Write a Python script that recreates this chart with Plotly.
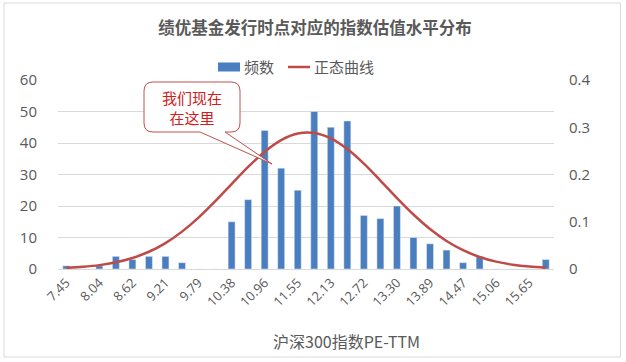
import plotly.graph_objects as go

categories = ["7.45", "7.74", "8.04", "8.33", "8.62", "8.91", "9.21", "9.50", "9.79", "10.08",
              "10.38", "10.67", "10.96", "11.25", "11.55", "11.84", "12.13", "12.43", "12.72", "13.01",
              "13.30", "13.59", "13.89", "14.18", "14.47", "14.76", "15.06", "15.35", "15.65", "15.94"]
freq = [1, 0, 1, 4, 3, 4, 4, 2, 0, 0,
        15, 22, 44, 32, 25, 50, 45, 47, 17, 16,
        20, 10, 8, 6, 2, 4, 0, 0, 0, 3]
normal = [0.0024, 0.0046, 0.0082, 0.0141, 0.0232, 0.0365, 0.0549, 0.0791, 0.1087, 0.1430,
          0.1797, 0.2160, 0.2483, 0.2729, 0.2867, 0.2880, 0.2766, 0.2539, 0.2230, 0.1872,
          0.1502, 0.1153, 0.0846, 0.0593, 0.0398, 0.0255, 0.0156, 0.0092, 0.0051, 0.0028]
tick_labels = categories[::2]
series_names = ["频数", "正态曲线"]

FONT = "Open Sans, Noto Sans CJK SC, sans-serif"
CJK = "Noto Sans CJK SC, sans-serif"
GREY = "#595959"
BLUE = "#4A7EBF"
RED = "#BE4B48"

fig = go.Figure()
fig.add_trace(go.Bar(x=categories, y=freq, name=series_names[0], marker_color=BLUE,
                     yaxis="y", showlegend=False))
fig.add_trace(go.Scatter(x=categories, y=normal, name=series_names[1], mode="lines",
                         line=dict(color=RED, width=2.5, shape="spline"),
                         yaxis="y2", showlegend=False))

# plot area in pixels: x 58..554, y 80..269
W, H = 626, 362
L, R, T, B = 58, 554, 80, 269
pw, ph = R - L, B - T
def px(x):
    return (x - L) / pw
def py(y):
    return (B - y) / ph

# callout path
bl, br, bt, bb = px(144), px(240), py(82), py(132)
rx, ry = 9 / pw, 9 / ph
t1, t2 = px(200), px(225)
tipx, tipy = px(272), py(164)
path = (f"M {bl+rx},{bt} L {br-rx},{bt} Q {br},{bt} {br},{bt-ry} L {br},{bb+ry} "
        f"Q {br},{bb} {br-rx},{bb} L {t2},{bb} L {tipx},{tipy} L {t1},{bb} "
        f"L {bl+rx},{bb} Q {bl},{bb} {bl},{bb+ry} L {bl},{bt-ry} Q {bl},{bt} {bl+rx},{bt} Z")

fig.update_layout(
    width=W, height=H,
    margin=dict(l=L, r=W - R, t=T, b=H - B, autoexpand=False),
    paper_bgcolor="white", plot_bgcolor="white",
    font=dict(family=FONT, color=GREY, size=14),
    title=dict(text="<b>绩优基金发行时点对应的指数估值水平分布</b>",
               font=dict(family=CJK, size=16.5, color=GREY),
               x=px(315), xref="paper", xanchor="center", y=1 - 28 / H, yanchor="middle"),
    bargap=0.58,
    xaxis=dict(type="category", categoryorder="array", categoryarray=categories,
               tickmode="array", tickvals=tick_labels, ticktext=tick_labels,
               tickangle=-45, tickfont=dict(size=13, color=GREY), ticks="",
               showline=True, linecolor="#D9D9D9", linewidth=1, showgrid=False),
    yaxis=dict(range=[0, 60], dtick=10, showgrid=True, gridcolor="#D9D9D9", gridwidth=1,
               zeroline=False, ticks="", tickfont=dict(size=15, color=GREY),
               ticklabelstandoff=20),
    yaxis2=dict(range=[0, 0.4], dtick=0.1, overlaying="y", side="right", showgrid=False,
                zeroline=False, ticks="", tickfont=dict(size=15, color=GREY),
                tickformat="~g", ticklabelstandoff=14),
    shapes=[
        dict(type="rect", xref="paper", yref="paper",
             x0=px(4), x1=px(620.5), y0=py(357), y1=py(3),
             line=dict(color="#D9D9D9", width=1), layer="below"),
        dict(type="rect", xref="paper", yref="paper",
             x0=px(218), x1=px(240), y0=py(71.5), y1=py(62.5),
             line=dict(width=0), fillcolor=BLUE),
        dict(type="line", xref="paper", yref="paper",
             x0=px(288), x1=px(310), y0=py(67), y1=py(67),
             line=dict(color=RED, width=2.5)),
        dict(type="path", xref="paper", yref="paper", path=path,
             line=dict(color="#C0504D", width=1), fillcolor="white", layer="above"),
    ],
    annotations=[
        dict(text=series_names[0], xref="paper", yref="paper", x=px(242), y=py(67),
             showarrow=False, font=dict(family=CJK, size=15, color=GREY),
             xanchor="left", yanchor="middle"),
        dict(text=series_names[1], xref="paper", yref="paper", x=px(312), y=py(67),
             showarrow=False, font=dict(family=CJK, size=15, color=GREY),
             xanchor="left", yanchor="middle"),
        dict(text="沪深300指数PE-TTM", xref="paper", yref="paper", x=px(346), y=py(341),
             showarrow=False, font=dict(family=CJK, size=16, color=GREY),
             xanchor="center", yanchor="middle"),
        dict(text="我们现在<br>在这里", xref="paper", yref="paper", x=px(192), y=py(107),
             showarrow=False, font=dict(family=CJK, size=15, color="#D0201E"),
             align="center", xanchor="center", yanchor="middle"),
    ],
)

fig.write_html("out.html", config={"displayModeBar": False},
               post_script="document.body.style.margin='0';")
